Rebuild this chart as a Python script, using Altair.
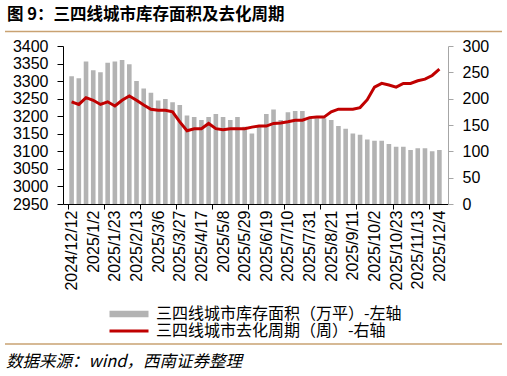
import json

import altair as alt
import pandas as pd

# Weekly observation dates (Thursdays), 2024/12/12 – 2025/12/4
dates = [f"{d.year}/{d.month}/{d.day}"
         for d in pd.date_range("2024-12-12", periods=52, freq="7D")]

# 三四线城市库存面积（万平）
inventory = [3314, 3308, 3356, 3331, 3325, 3352, 3356, 3360, 3348, 3300,
             3279, 3267, 3245, 3249, 3240, 3232, 3202, 3198, 3189, 3198,
             3206, 3198, 3189, 3198, 3170, 3151, 3170, 3206, 3219, 3189,
             3211, 3215, 3215, 3196, 3194, 3194, 3189, 3172, 3164, 3151,
             3147, 3134, 3130, 3130, 3121, 3113, 3113, 3104, 3109, 3109,
             3100, 3104]

# 三四线城市去化周期（周）
cycle = [194, 189, 202, 197, 189, 194, 186, 197, 205, 197,
         188, 180, 178, 178, 175, 156, 139, 143, 143, 153,
         143, 141, 143, 143, 143, 146, 148, 148, 153, 154,
         156, 159, 159, 164, 165, 165, 175, 180, 180, 180,
         183, 198, 222, 229, 226, 222, 229, 229, 234, 237,
         244, 256]

left_ticks = list(range(2950, 3401, 50))
right_ticks = list(range(0, 301, 50))

bar_name = "三四线城市库存面积（万平）-左轴"
line_name = "三四线城市去化周期（周）-右轴"
title_text = "图 9：三四线城市库存面积及去化周期"
source_text = "数据来源：wind，西南证券整理"

df = pd.DataFrame({
    "idx": list(range(len(dates))),
    "date": dates,
    "inv": inventory,
    "cyc": cycle,
    "s1": bar_name,
    "s2": line_name,
})

CJK = "Noto Sans CJK SC"
LATIN = "Liberation Sans"
BAR_GRAY = "#b3b3b3"
RED = "#c00000"
TAN = "#c9a272"

n = len(dates)
# labels every third week, tick marks every fifth week boundary
label_pos = list(range(0, n, 3))
tick_pos = [i - 0.5 for i in range(0, n, 5)]
axis_values = sorted(label_pos + tick_pos)

x_scale = alt.Scale(domain=[-0.5, n - 0.5], nice=False, zero=False)
x_axis = alt.Axis(
    values=axis_values,
    labelExpr=f"datum.value % 3 === 0 ? {json.dumps(dates)}[datum.value] : ''",
    labelAngle=-90,
    labelFont=LATIN,
    labelFontSize=16,
    labelColor="black",
    labelOverlap=False,
    labelFlush=False,
    labelBound=False,
    labelPadding=1,
    tickSize=5,
    tickColor="black",
    tickOpacity={"condition": {"test": "datum.value % 1 !== 0", "value": 1}, "value": 0},
    domainColor="black",
    grid=False,
    title=None,
)

legend_common = dict(
    orient="none", title=None, padding=0, symbolSize=169,
    labelFont=CJK, labelFontSize=16, labelColor="black",
    labelLimit=400, labelOffset=19,
)

bars = alt.Chart(df).mark_bar(width=4.6, clip=True).encode(
    x=alt.X("idx:Q", scale=x_scale, axis=x_axis),
    y=alt.Y("inv:Q",
            scale=alt.Scale(domain=[2950, 3400], nice=False, zero=False),
            axis=alt.Axis(values=left_ticks, format="d", grid=False,
                          domainColor="black", tickColor="black", tickSize=6,
                          labelPadding=9, labelFont=LATIN, labelFontSize=16,
                          labelColor="black", title=None)),
    color=alt.Color("s1:N", scale=alt.Scale(range=[BAR_GRAY]),
                    legend=alt.Legend(legendX=58, legendY=260,
                                      symbolType="M-3,-0.5H3V0.5H-3Z",
                                      symbolStrokeWidth=0, **legend_common)),
)

line = alt.Chart(df).mark_line(strokeWidth=3).encode(
    x=alt.X("idx:Q", scale=x_scale, axis=x_axis),
    y=alt.Y("cyc:Q",
            scale=alt.Scale(domain=[0, 300], nice=False),
            axis=alt.Axis(orient="right", values=right_ticks, format="d",
                          grid=False, domainColor="#a6a6a6",
                          tickColor="#a6a6a6", tickSize=5, labelPadding=9,
                          labelFont=LATIN, labelFontSize=16,
                          labelColor="black", title=None)),
    stroke=alt.Stroke("s2:N", scale=alt.Scale(range=[RED]),
                      legend=alt.Legend(legendX=58, legendY=277,
                                        symbolType="M-3,0H3",
                                        symbolStrokeWidth=3, **legend_common)),
)

title = alt.Chart(pd.DataFrame({"t": [title_text]})).mark_text(
    align="left", baseline="middle", font=CJK, fontSize=16.5,
    fontWeight="bold", color="black",
).encode(text="t:N", x=alt.value(-56), y=alt.value(-31.5))

source = alt.Chart(pd.DataFrame({"t": [source_text]})).mark_text(
    align="left", baseline="middle", font=CJK, fontSize=16.5,
    fontStyle="italic", color="black",
).encode(text="t:N", x=alt.value(-57), y=alt.value(316))

rule_top = alt.Chart(pd.DataFrame({"k": [0]})).mark_rule(
    color=TAN, strokeWidth=1.5
).encode(x=alt.value(-58), x2=alt.value(439), y=alt.value(-14.5))

rule_bottom = alt.Chart(pd.DataFrame({"k": [0]})).mark_rule(
    color=TAN, strokeWidth=1.5
).encode(x=alt.value(-58), x2=alt.value(439), y=alt.value(298))

chart = alt.layer(
    bars, line, title, source, rule_top, rule_bottom
).resolve_scale(
    y="independent", color="independent"
).properties(
    width=385,
    height=158,
    autosize=alt.AutoSizeParams(type="none"),
    padding={"left": 63, "top": 46, "right": 59, "bottom": 172},
).configure_view(stroke=None)

chart.save("out.html", embed_options={"renderer": "svg", "actions": False})
